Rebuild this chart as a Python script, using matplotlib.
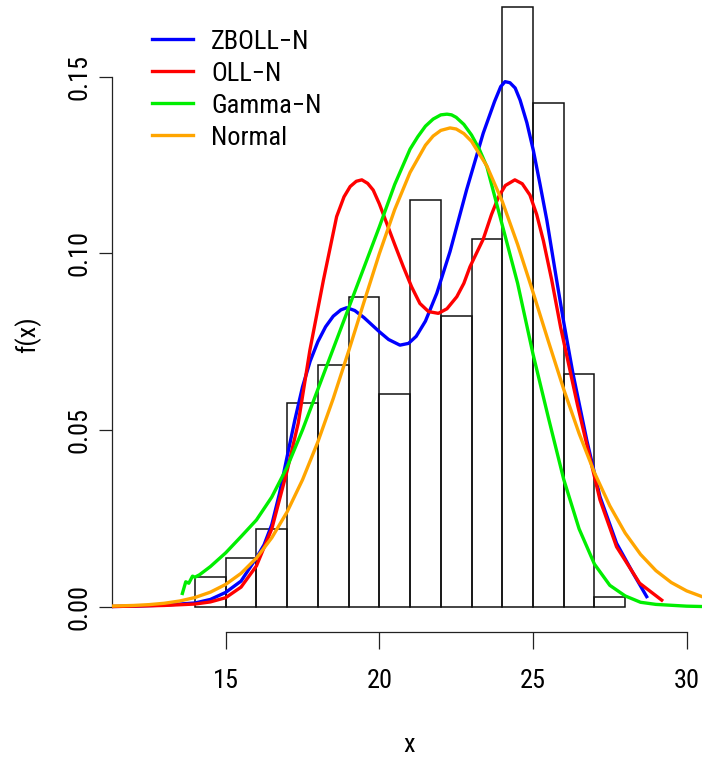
import matplotlib
matplotlib.use("Agg")
import matplotlib.pyplot as plt
from matplotlib import font_manager

# ---------------- data ----------------
bin_edges = [14, 15, 16, 17, 18, 19, 20, 21, 22, 23, 24, 25, 26, 27, 28]
bin_counts = [3, 5, 8, 21, 25, 32, 22, 42, 30, 38, 62, 52, 24, 1]
n_obs = 365

zboll_x = [11.3, 12.0, 13.0, 14.0, 14.5, 15.0, 15.5, 16.0, 16.25, 16.5, 16.75, 17.0, 17.25,
           17.5, 17.75, 18.0, 18.25, 18.5, 18.75, 18.94, 19.2, 19.5, 19.75, 20.0, 20.3,
           20.67, 20.95, 21.2, 21.5, 21.87, 22.3, 22.84, 23.38, 23.75, 23.95, 24.09, 24.25,
           24.42, 24.58, 24.8, 25.01, 25.23, 25.45, 25.77, 26.0, 26.3, 26.75, 27.18, 27.72,
           28.26, 28.7]
zboll_y = [0.0000, 0.0001, 0.0004, 0.0010, 0.0020, 0.0040, 0.0072, 0.0138, 0.0175, 0.0232,
           0.0320, 0.0425, 0.0528, 0.0622, 0.0695, 0.0750, 0.0792, 0.0822, 0.0840, 0.0846,
           0.0838, 0.0818, 0.0798, 0.0778, 0.0756, 0.0740, 0.0745, 0.0765, 0.0808, 0.0887,
           0.1005, 0.1180, 0.1340, 0.1430, 0.1472, 0.1486, 0.1483, 0.1468, 0.1434, 0.1370,
           0.1292, 0.1195, 0.1094, 0.0924, 0.0805, 0.0660, 0.0471, 0.0311, 0.0179, 0.0094,
           0.0028]

oll_x = [11.3, 12.0, 13.0, 14.0, 14.5, 15.0, 15.5, 16.0, 16.5, 17.0, 17.36, 17.74, 18.18,
         18.61, 18.85, 19.05, 19.25, 19.43, 19.62, 19.80, 20.0, 20.24, 20.5, 20.78, 21.05,
         21.32, 21.6, 21.92, 22.2, 22.52, 22.75, 22.95, 23.38, 23.65, 23.88, 24.1, 24.41,
         24.65, 24.90, 25.12, 25.34, 25.61, 25.9, 26.2, 26.45, 26.69, 27.18, 27.72, 28.47,
         29.19]
oll_y = [0.0000, 0.0001, 0.0003, 0.0007, 0.0013, 0.0025, 0.0055, 0.0115, 0.0220, 0.0385,
         0.0519, 0.0726, 0.0924, 0.1104, 0.1160, 0.1189, 0.1204, 0.1208, 0.1198, 0.1179,
         0.1140, 0.1085, 0.1025, 0.0962, 0.0905, 0.0858, 0.0835, 0.0830, 0.0843, 0.0877,
         0.0915, 0.0962, 0.1040, 0.1110, 0.1160, 0.1192, 0.1208, 0.1197, 0.1165, 0.1110,
         0.1035, 0.0924, 0.0790, 0.0670, 0.0570, 0.0481, 0.0302, 0.0169, 0.0066, 0.0018]

gamma_x = [13.59, 13.70, 13.80, 13.92, 14.0, 14.15, 14.5, 15.0, 15.5, 16.0, 16.5, 17.0,
           17.5, 18.0, 18.5, 19.0, 19.5, 20.0, 20.5, 21.0, 21.25, 21.5, 21.75, 22.0, 22.2,
           22.35, 22.5, 22.75, 23.0, 23.25, 23.5, 24.0, 24.5, 25.0, 25.5, 26.0, 26.5, 27.0,
           27.5, 28.0, 28.5, 29.0, 30.0, 30.5]
gamma_y = [0.0037, 0.0070, 0.0066, 0.0086, 0.0083, 0.0090, 0.0113, 0.0152, 0.0198, 0.0245,
           0.0310, 0.0395, 0.0500, 0.0615, 0.0730, 0.0845, 0.0960, 0.1075, 0.1195, 0.1295,
           0.1330, 0.1360, 0.1380, 0.1392, 0.1394, 0.1392, 0.1385, 0.1365, 0.1335, 0.1295,
           0.1245, 0.1080, 0.0915, 0.0715, 0.0535, 0.0360, 0.0220, 0.0120, 0.0060, 0.0030,
           0.0012, 0.0006, 0.0001, 0.0000]

normal_x = [11.3, 12.0, 12.5, 13.0, 13.5, 14.0, 14.5, 15.0, 15.5, 16.0, 16.5, 17.0, 17.5,
            18.0, 18.5, 19.0, 19.5, 20.0, 20.5, 21.0, 21.5, 21.75, 22.0, 22.3, 22.5, 22.75,
            23.0, 23.5, 24.0, 24.5, 25.0, 25.5, 26.0, 26.5, 27.0, 27.5, 28.0, 28.5, 29.0,
            29.5, 30.0, 30.5, 31.0]
normal_y = [0.00013, 0.0003, 0.00053, 0.00092, 0.00156, 0.00255, 0.00406, 0.00626, 0.0094,
            0.01373, 0.01947, 0.02682, 0.03588, 0.04663, 0.0589, 0.0723, 0.0862, 0.0999,
            0.1124, 0.1229, 0.1306, 0.1332, 0.1348, 0.1355, 0.1352, 0.1339, 0.1317, 0.1247,
            0.1147, 0.1025, 0.0890, 0.0751, 0.0615, 0.0490, 0.0379, 0.0285, 0.0208, 0.01476,
            0.01016, 0.0068, 0.00443, 0.0028, 0.00172]

series_labels = ["ZBOLL\u2212N", "OLL\u2212N", "Gamma\u2212N", "Normal"]
series_colors = ["#0000FF", "#FF0000", "#00EE00", "#FFA500"]
x_ticks = [15, 20, 25, 30]
y_ticks = [0.00, 0.05, 0.10, 0.15]
y_ticklabels = ["0.00", "0.05", "0.10", "0.15"]

# ---------------- font ----------------
def pick_font(names):
    for nm in names:
        try:
            font_manager.findfont(font_manager.FontProperties(family=nm),
                                  fallback_to_default=False)
            return nm
        except Exception:
            continue
    return "DejaVu Sans"

FONT = pick_font(["Liberation Sans Narrow", "Arial Narrow", "Nimbus Sans Narrow",
                  "Arimo Narrow", "Roboto Condensed", "Archivo Narrow", "PT Sans Narrow",
                  "Liberation Sans"])
NARROW = FONT != "Liberation Sans" and FONT != "DejaVu Sans"
plt.rcParams["font.family"] = [FONT, "DejaVu Sans"]
FS = 19 if NARROW else 17
FS_PX = FS * 100 / 72.0

W, H = 702, 761
fig = plt.figure(figsize=(W / 100, H / 100), dpi=100)

ax_left_px, ax_bottom_px = 111.7, 631.7
ax = fig.add_axes([ax_left_px / W, 1 - ax_bottom_px / H, 1 - ax_left_px / W, ax_bottom_px / H])
ax.set_xlim(11.29, 30.50)
ax.set_ylim(-0.00713, 0.17172)

# histogram (density scale)
dens = [c / n_obs for c in bin_counts]
ax.bar(bin_edges[:-1], dens, width=1.0, align="edge", fill=False,
       edgecolor="#111111", linewidth=1.1, zorder=1)

LW = 2.4
ax.plot(zboll_x, zboll_y, color=series_colors[0], lw=LW, label=series_labels[0], zorder=3,
        solid_joinstyle="round")
ax.plot(oll_x, oll_y, color=series_colors[1], lw=LW, label=series_labels[1], zorder=4,
        solid_joinstyle="round")
ax.plot(gamma_x, gamma_y, color=series_colors[2], lw=LW, label=series_labels[2], zorder=5,
        solid_joinstyle="round")
ax.plot(normal_x, normal_y, color=series_colors[3], lw=LW, label=series_labels[3], zorder=6,
        solid_joinstyle="round")

# axes styling (R base look)
for s in ["top", "right"]:
    ax.spines[s].set_visible(False)
ax.spines["left"].set_bounds(0, 0.15)
ax.spines["bottom"].set_bounds(15, 30)
for s in ["left", "bottom"]:
    ax.spines[s].set_linewidth(0.9)
    ax.spines[s].set_color("#222222")

ax.set_xticks(x_ticks)
ax.set_xticklabels([str(t) for t in x_ticks], fontsize=FS)
ax.set_yticks(y_ticks)
ax.set_yticklabels(y_ticklabels, fontsize=FS, rotation=90, va="center")
ax.tick_params(axis="x", direction="out", length=16.6 * 0.72, width=0.9, pad=15,
               color="#222222")
ax.tick_params(axis="y", direction="out", length=13.4 * 0.72, width=0.9, pad=5,
               color="#222222")

# axis titles
fig.text(409 / W, 1 - 745 / H, "x", fontsize=FS, ha="center", va="center")
fig.text(28 / W, 1 - 335 / H, "f(x)", fontsize=FS, ha="center", va="center", rotation=90)

# legend (no box)
row_h = 0.94 * FS_PX
lab_sp = (32.8 - row_h) / FS_PX
top_px = 40.0 - row_h / 2.0 + 2.0
leg = ax.legend(loc="upper left", bbox_to_anchor=(152 / W, 1 - top_px / H),
                bbox_transform=fig.transFigure, frameon=False, fontsize=FS,
                borderpad=0, borderaxespad=0, handlelength=41.0 / FS_PX,
                handletextpad=18.0 / FS_PX, labelspacing=lab_sp)

fig.savefig("out.png", dpi=100)
